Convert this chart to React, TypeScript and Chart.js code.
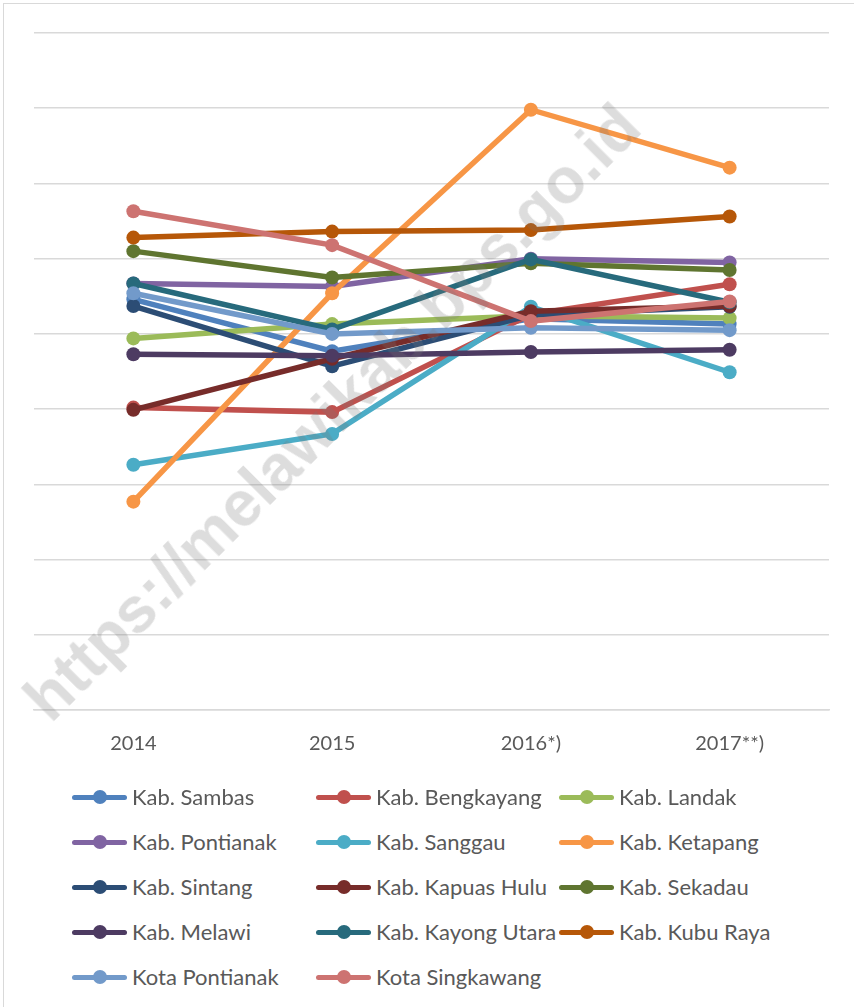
import React, { useEffect, useRef } from "react";
import { Chart, registerables } from "chart.js";

Chart.register(...registerables);

const categories = ["2014", "2015", "2016*)", "2017**)"];

const seriesNames = [
  "Kab. Sambas",
  "Kab. Bengkayang",
  "Kab. Landak",
  "Kab. Pontianak",
  "Kab. Sanggau",
  "Kab. Ketapang",
  "Kab. Sintang",
  "Kab. Kapuas Hulu",
  "Kab. Sekadau",
  "Kab. Melawi",
  "Kab. Kayong Utara",
  "Kab. Kubu Raya",
  "Kota Pontianak",
  "Kota Singkawang",
];

const sambas = [5.46, 4.77, 5.2, 5.13];
const bengkayang = [4.02, 3.96, 5.26, 5.66];
const landak = [4.94, 5.13, 5.24, 5.21];
const pontianak = [5.67, 5.63, 6.0, 5.95];
const sanggau = [3.26, 3.67, 5.36, 4.49];
const ketapang = [2.77, 5.54, 7.98, 7.21];
const sintang = [5.37, 4.57, 5.25, 5.36];
const kapuasHulu = [3.99, 4.67, 5.3, 5.37];
const sekadau = [6.1, 5.75, 5.94, 5.85];
const melawi = [4.73, 4.71, 4.76, 4.79];
const kayongUtara = [5.67, 5.06, 5.99, 5.42];
const kubuRaya = [6.28, 6.36, 6.38, 6.56];
const kotaPontianak = [5.54, 5.0, 5.08, 5.05];
const kotaSingkawang = [6.63, 6.18, 5.17, 5.43];

const seriesValues = [
  sambas,
  bengkayang,
  landak,
  pontianak,
  sanggau,
  ketapang,
  sintang,
  kapuasHulu,
  sekadau,
  melawi,
  kayongUtara,
  kubuRaya,
  kotaPontianak,
  kotaSingkawang,
];

const seriesColors = [
  "#4F81BD",
  "#C0504D",
  "#9BBB59",
  "#8064A2",
  "#4BACC6",
  "#F79646",
  "#2C4D75",
  "#772C2A",
  "#5F7530",
  "#4D3B62",
  "#276A7C",
  "#B65708",
  "#729ACA",
  "#CD7371",
];

const watermark = "https://melawikab.bps.go.id";

const FONT = "Lato, 'Open Sans', sans-serif";
const TEXT_COLOR = "#595959";
const GRID_COLOR = "#d9d9d9";

export default function App() {
  const canvasRef = useRef<HTMLCanvasElement | null>(null);

  useEffect(() => {
    const canvas = canvasRef.current;
    if (!canvas) return;
    const n = seriesNames.length;
    const chart = new Chart(canvas, {
      type: "line",
      data: {
        labels: categories,
        datasets: seriesNames.map((name, i) => ({
          label: name,
          data: seriesValues[i],
          borderColor: seriesColors[i],
          backgroundColor: seriesColors[i],
          pointBackgroundColor: seriesColors[i],
          pointBorderColor: seriesColors[i],
          borderWidth: 5.5,
          pointRadius: 7,
          pointBorderWidth: 0,
          pointHoverRadius: 7,
          tension: 0,
          fill: false,
          order: n - i,
        })),
      },
      options: {
        responsive: false,
        animation: false,
        events: [],
        layout: { padding: { left: 34, right: 25, top: 33, bottom: 24 } },
        plugins: {
          legend: { display: false },
          tooltip: { enabled: false },
          title: { display: false },
        },
        scales: {
          x: {
            type: "category",
            offset: true,
            grid: { display: false, drawTicks: false },
            border: { display: true, color: GRID_COLOR, width: 1.5 },
            ticks: {
              color: TEXT_COLOR,
              font: { family: FONT, size: 20 },
              padding: 22,
              maxRotation: 0,
              autoSkip: false,
            },
          },
          y: {
            min: 0,
            max: 9,
            ticks: { display: false, stepSize: 1 },
            grid: { color: GRID_COLOR, lineWidth: 1.5, drawTicks: false },
            border: { display: false },
          },
        },
      },
    });
    return () => chart.destroy();
  }, []);

  const colX = [72, 316, 559];
  const rowY = [797, 842, 887, 932, 977];

  return (
    <div
      style={{
        position: "absolute",
        left: 0,
        top: 0,
        width: 854,
        height: 1007,
        background: "#ffffff",
        overflow: "hidden",
        fontFamily: FONT,
      }}
    >
      <div
        style={{
          position: "absolute",
          left: 3,
          top: 3,
          width: 900,
          height: 1100,
          borderLeft: "1.5px solid #d9d9d9",
          borderTop: "1.5px solid #d9d9d9",
        }}
      />
      <canvas
        ref={canvasRef}
        width={854}
        height={802}
        style={{ position: "absolute", left: 0, top: 0, width: 854, height: 802 }}
      />
      {seriesNames.map((name, i) => {
        const x = colX[i % 3];
        const y = rowY[Math.floor(i / 3)];
        return (
          <div key={name}>
            <div
              style={{
                position: "absolute",
                left: x,
                top: y - 2.5,
                width: 55,
                height: 5,
                borderRadius: 2.5,
                background: seriesColors[i],
              }}
            />
            <div
              style={{
                position: "absolute",
                left: x + 28 - 7,
                top: y - 7,
                width: 14,
                height: 14,
                borderRadius: 7,
                background: seriesColors[i],
              }}
            />
            <div
              style={{
                position: "absolute",
                left: x + 60,
                top: y - 14,
                height: 28,
                lineHeight: "28px",
                fontSize: 22,
                color: TEXT_COLOR,
                whiteSpace: "nowrap",
              }}
            >
              {name}
            </div>
          </div>
        );
      })}
      <div
        style={{
          position: "absolute",
          left: 332,
          top: 412,
          transform: "translate(-50%, -50%) rotate(-45deg)",
          fontFamily: "'Liberation Sans', Arial, sans-serif",
          fontWeight: 700,
          fontSize: 64,
          color: "rgba(120,120,120,0.25)",
          whiteSpace: "nowrap",
          pointerEvents: "none",
          lineHeight: "64px",
        }}
      >
        {watermark}
      </div>
    </div>
  );
}
